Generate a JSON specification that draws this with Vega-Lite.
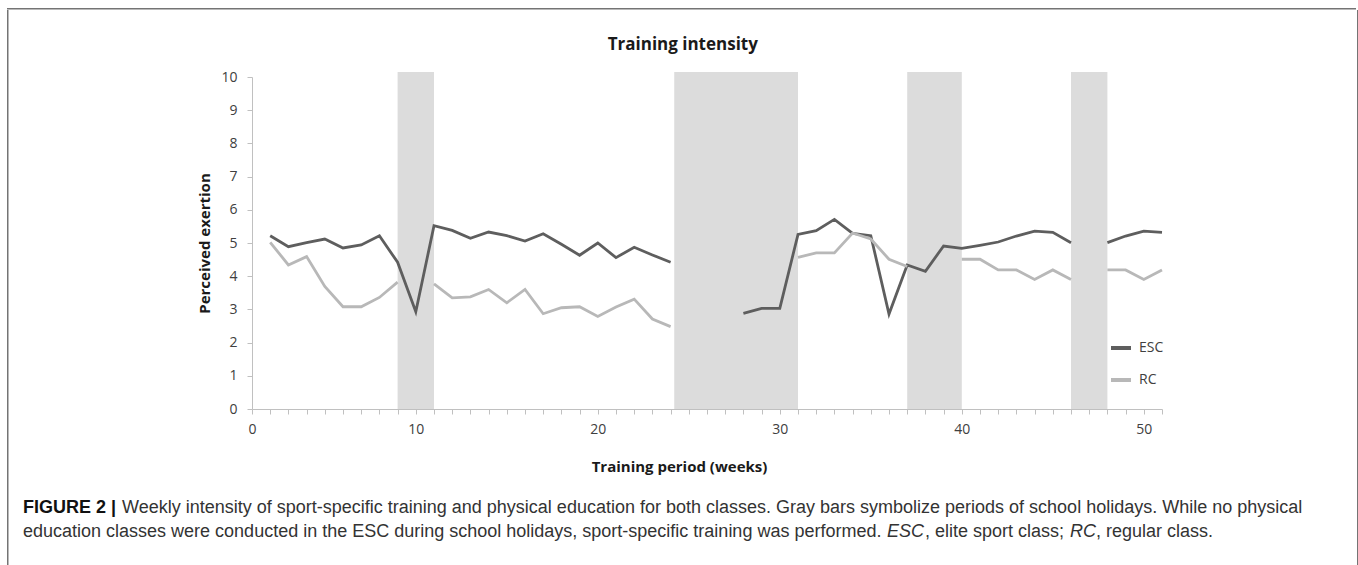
{
  "$schema": "https://vega.github.io/schema/vega-lite/v6.json",
  "padding": {"left": 7, "top": 8, "right": 0, "bottom": 0},
  "background": "white",
  "config": {"view": {"stroke": null}, "font": "Open Sans"},
  "datasets": {
    "series": [
      {"week": 2, "class": "ESC", "value": 5.22}, {"week": 3, "class": "ESC", "value": 4.89}, {"week": 4, "class": "ESC", "value": 5.01},
      {"week": 5, "class": "ESC", "value": 5.12}, {"week": 6, "class": "ESC", "value": 4.85}, {"week": 7, "class": "ESC", "value": 4.94},
      {"week": 8, "class": "ESC", "value": 5.22}, {"week": 9, "class": "ESC", "value": 4.42}, {"week": 10, "class": "ESC", "value": 2.93},
      {"week": 11, "class": "ESC", "value": 5.52}, {"week": 12, "class": "ESC", "value": 5.38}, {"week": 13, "class": "ESC", "value": 5.14},
      {"week": 14, "class": "ESC", "value": 5.33}, {"week": 15, "class": "ESC", "value": 5.22}, {"week": 16, "class": "ESC", "value": 5.06},
      {"week": 17, "class": "ESC", "value": 5.28}, {"week": 18, "class": "ESC", "value": 4.96}, {"week": 19, "class": "ESC", "value": 4.63},
      {"week": 20, "class": "ESC", "value": 5.0}, {"week": 21, "class": "ESC", "value": 4.56}, {"week": 22, "class": "ESC", "value": 4.87},
      {"week": 23, "class": "ESC", "value": 4.64}, {"week": 24, "class": "ESC", "value": 4.42}, {"week": 25, "class": "ESC", "value": null},
      {"week": 26, "class": "ESC", "value": null}, {"week": 27, "class": "ESC", "value": null}, {"week": 28, "class": "ESC", "value": 2.88},
      {"week": 29, "class": "ESC", "value": 3.03}, {"week": 30, "class": "ESC", "value": 3.03}, {"week": 31, "class": "ESC", "value": 5.26},
      {"week": 32, "class": "ESC", "value": 5.37}, {"week": 33, "class": "ESC", "value": 5.71}, {"week": 34, "class": "ESC", "value": 5.29},
      {"week": 35, "class": "ESC", "value": 5.22}, {"week": 36, "class": "ESC", "value": 2.86}, {"week": 37, "class": "ESC", "value": 4.34},
      {"week": 38, "class": "ESC", "value": 4.15}, {"week": 39, "class": "ESC", "value": 4.91}, {"week": 40, "class": "ESC", "value": 4.84},
      {"week": 41, "class": "ESC", "value": 4.93}, {"week": 42, "class": "ESC", "value": 5.03}, {"week": 43, "class": "ESC", "value": 5.21},
      {"week": 44, "class": "ESC", "value": 5.36}, {"week": 45, "class": "ESC", "value": 5.32}, {"week": 46, "class": "ESC", "value": 5.01},
      {"week": 47, "class": "ESC", "value": null}, {"week": 48, "class": "ESC", "value": 5.01}, {"week": 49, "class": "ESC", "value": 5.21},
      {"week": 50, "class": "ESC", "value": 5.36}, {"week": 51, "class": "ESC", "value": 5.32},
      {"week": 2, "class": "RC", "value": 5.02}, {"week": 3, "class": "RC", "value": 4.34}, {"week": 4, "class": "RC", "value": 4.59},
      {"week": 5, "class": "RC", "value": 3.69}, {"week": 6, "class": "RC", "value": 3.08}, {"week": 7, "class": "RC", "value": 3.08},
      {"week": 8, "class": "RC", "value": 3.36}, {"week": 9, "class": "RC", "value": 3.82}, {"week": 10, "class": "RC", "value": null},
      {"week": 11, "class": "RC", "value": 3.77}, {"week": 12, "class": "RC", "value": 3.35}, {"week": 13, "class": "RC", "value": 3.38},
      {"week": 14, "class": "RC", "value": 3.6}, {"week": 15, "class": "RC", "value": 3.2}, {"week": 16, "class": "RC", "value": 3.6},
      {"week": 17, "class": "RC", "value": 2.87}, {"week": 18, "class": "RC", "value": 3.05}, {"week": 19, "class": "RC", "value": 3.08},
      {"week": 20, "class": "RC", "value": 2.79}, {"week": 21, "class": "RC", "value": 3.07}, {"week": 22, "class": "RC", "value": 3.31},
      {"week": 23, "class": "RC", "value": 2.71}, {"week": 24, "class": "RC", "value": 2.48}, {"week": 25, "class": "RC", "value": null},
      {"week": 26, "class": "RC", "value": null}, {"week": 27, "class": "RC", "value": null}, {"week": 28, "class": "RC", "value": null},
      {"week": 29, "class": "RC", "value": null}, {"week": 30, "class": "RC", "value": null}, {"week": 31, "class": "RC", "value": 4.57},
      {"week": 32, "class": "RC", "value": 4.7}, {"week": 33, "class": "RC", "value": 4.7}, {"week": 34, "class": "RC", "value": 5.3},
      {"week": 35, "class": "RC", "value": 5.12}, {"week": 36, "class": "RC", "value": 4.51}, {"week": 37, "class": "RC", "value": 4.29},
      {"week": 38, "class": "RC", "value": null}, {"week": 39, "class": "RC", "value": null}, {"week": 40, "class": "RC", "value": 4.51},
      {"week": 41, "class": "RC", "value": 4.51}, {"week": 42, "class": "RC", "value": 4.19}, {"week": 43, "class": "RC", "value": 4.19},
      {"week": 44, "class": "RC", "value": 3.9}, {"week": 45, "class": "RC", "value": 4.19}, {"week": 46, "class": "RC", "value": 3.9},
      {"week": 47, "class": "RC", "value": null}, {"week": 48, "class": "RC", "value": 4.19}, {"week": 49, "class": "RC", "value": 4.19},
      {"week": 50, "class": "RC", "value": 3.9}, {"week": 51, "class": "RC", "value": 4.19}
    ],
    "holidays": [
      {"start": 9, "end": 11},
      {"start": 24.2, "end": 31},
      {"start": 37, "end": 40},
      {"start": 46, "end": 48}
    ]
  },
  "vconcat": [
    {"data": {"values": []}, "mark": "point", "width": 1349, "height": 1.5, "view": {"fill": "#747474", "stroke": null}},
    {
      "hconcat": [
        {"data": {"values": []}, "mark": "point", "width": 1.5, "height": 560, "view": {"fill": "#747474", "stroke": null}},
        {"data": {"values": []}, "mark": "point", "width": 13.5, "height": 1},
        {
          "vconcat": [
            {"data": {"values": []}, "mark": "point", "width": 1, "height": 0.5},
            {
              "hconcat": [
                {"data": {"values": []}, "mark": "point", "width": 174, "height": 1},
                {
                  "width": 910,
                  "height": 332,
                  "title": {"text": "Training intensity", "font": "Open Sans", "fontSize": 17, "fontWeight": "bold", "color": "#1a1a1a", "anchor": "middle", "frame": "bounds", "offset": 16},
                  "layer": [
                    {
                      "data": {"name": "holidays"},
                      "mark": {"type": "rect", "color": "#dcdcdc"},
                      "encoding": {
                        "x": {"field": "start", "type": "quantitative", "scale": {"domain": [1, 51], "nice": false, "zero": false},
                          "axis": {"title": "Training period (weeks)", "values": [1,2,3,4,5,6,7,8,9,10,11,12,13,14,15,16,17,18,19,20,21,22,23,24,25,26,27,28,29,30,31,32,33,34,35,36,37,38,39,40,41,42,43,44,45,46,47,48,49,50,51],
                            "labelExpr": "datum.value == 1 ? '0' : (datum.value % 10 == 0 ? datum.label : '')",
                            "grid": false, "tickSize": 5, "tickColor": "#c0c0c0", "domainColor": "#c0c0c0",
                            "labelFont": "Open Sans", "labelFontSize": 14, "labelColor": "#404040", "labelPadding": 8,
                            "labelFlush": false, "labelOverlap": false, "labelBound": false,
                            "titleFont": "Open Sans", "titleFontSize": 15, "titleFontWeight": "bold", "titleColor": "#1a1a1a", "titlePadding": 23, "titleX": 427}},
                        "x2": {"field": "end"},
                        "y": {"datum": 0, "type": "quantitative", "scale": {"domain": [0, 10], "nice": false},
                          "axis": {"title": "Perceived exertion", "values": [0,1,2,3,4,5,6,7,8,9,10], "grid": false, "tickSize": 5,
                            "tickColor": "#c0c0c0", "domainColor": "#c0c0c0", "labelFont": "Open Sans", "labelFontSize": 14, "labelColor": "#404040",
                            "labelPadding": 10, "labelOverlap": false, "titleFont": "Open Sans", "titleFontSize": 15, "titleFontWeight": "bold", "titleColor": "#1a1a1a", "titlePadding": 8}},
                        "y2": {"datum": 10.15}
                      }
                    },
                    {
                      "data": {"name": "series"},
                      "mark": {"type": "line", "strokeWidth": 2.8, "invalid": "break-paths-filter-domains"},
                      "encoding": {
                        "x": {"field": "week", "type": "quantitative",
                          "axis": {"title": "Training period (weeks)", "values": [1,2,3,4,5,6,7,8,9,10,11,12,13,14,15,16,17,18,19,20,21,22,23,24,25,26,27,28,29,30,31,32,33,34,35,36,37,38,39,40,41,42,43,44,45,46,47,48,49,50,51],
                            "labelExpr": "datum.value == 1 ? '0' : (datum.value % 10 == 0 ? datum.label : '')",
                            "grid": false, "tickSize": 5, "tickColor": "#c0c0c0", "domainColor": "#c0c0c0",
                            "labelFont": "Open Sans", "labelFontSize": 14, "labelColor": "#404040", "labelPadding": 8,
                            "labelFlush": false, "labelOverlap": false, "labelBound": false,
                            "titleFont": "Open Sans", "titleFontSize": 15, "titleFontWeight": "bold", "titleColor": "#1a1a1a", "titlePadding": 23, "titleX": 427}},
                        "y": {"field": "value", "type": "quantitative",
                          "axis": {"title": "Perceived exertion", "values": [0,1,2,3,4,5,6,7,8,9,10], "grid": false, "tickSize": 5,
                            "tickColor": "#c0c0c0", "domainColor": "#c0c0c0", "labelFont": "Open Sans", "labelFontSize": 14, "labelColor": "#404040",
                            "labelPadding": 10, "labelOverlap": false, "titleFont": "Open Sans", "titleFontSize": 15, "titleFontWeight": "bold", "titleColor": "#1a1a1a", "titlePadding": 8}},
                        "color": {"field": "class", "type": "nominal", "scale": {"domain": ["ESC", "RC"], "range": ["#5e5e5e", "#b8b8b8"]},
                          "legend": {"title": null, "orient": "none", "legendX": 1102, "legendY": 328, "symbolType": "stroke", "symbolSize": 400,
                            "symbolStrokeWidth": 4, "labelFont": "Open Sans", "labelFontSize": 14, "labelColor": "#404040", "labelOffset": 6,
                            "rowPadding": 12, "padding": 0}}
                      }
                    }
                  ]
                }
              ],
              "spacing": 0,
              "align": "none"
            },
            {
              "vconcat": [
                {
                  "hconcat": [
                    {"data": {"values": []}, "mark": "point", "width": 1, "height": 1,
                      "title": {"text": "FIGURE 2 |", "anchor": "start", "frame": "group", "offset": 0, "font": "Liberation Sans", "fontSize": 18, "fontWeight": "bold", "color": "#111111"}},
                    {"data": {"values": []}, "mark": "point", "width": 1, "height": 1,
                      "title": {"text": "Weekly intensity of sport-specific training and physical education for both classes. Gray bars symbolize periods of school holidays. While no physical", "anchor": "start", "frame": "group", "offset": 0, "font": "Liberation Sans", "fontSize": 18, "fontWeight": "normal", "color": "#333333"}}
                  ],
                  "spacing": 5,
                  "align": "none"
                },
                {
                  "hconcat": [
                    {"data": {"values": []}, "mark": "point", "width": 1, "height": 1,
                      "title": {"text": "education classes were conducted in the ESC during school holidays, sport-specific training was performed.", "anchor": "start", "frame": "group", "offset": 0, "font": "Liberation Sans", "fontSize": 18, "fontWeight": "normal", "color": "#333333"}},
                    {
                      "hconcat": [
                        {"data": {"values": []}, "mark": "point", "width": 1, "height": 1,
                          "title": {"text": "ESC", "anchor": "start", "frame": "group", "offset": 0, "font": "Liberation Sans", "fontSize": 18, "fontWeight": "normal", "fontStyle": "italic", "color": "#333333"}},
                        {"data": {"values": []}, "mark": "point", "width": 1, "height": 1,
                          "title": {"text": ", elite sport class;", "anchor": "start", "frame": "group", "offset": 0, "font": "Liberation Sans", "fontSize": 18, "fontWeight": "normal", "color": "#333333"}}
                      ],
                      "spacing": 0,
                      "align": "none"
                    },
                    {
                      "hconcat": [
                        {"data": {"values": []}, "mark": "point", "width": 1, "height": 1,
                          "title": {"text": "RC", "anchor": "start", "frame": "group", "offset": 0, "font": "Liberation Sans", "fontSize": 18, "fontWeight": "normal", "fontStyle": "italic", "color": "#333333"}},
                        {"data": {"values": []}, "mark": "point", "width": 1, "height": 1,
                          "title": {"text": ", regular class.", "anchor": "start", "frame": "group", "offset": 0, "font": "Liberation Sans", "fontSize": 18, "fontWeight": "normal", "color": "#333333"}}
                      ],
                      "spacing": 0,
                      "align": "none"
                    }
                  ],
                  "spacing": 5,
                  "align": "none"
                }
              ],
              "spacing": 5,
              "align": "none"
            }
          ],
          "spacing": 25,
          "align": "none"
        },
        {"data": {"values": []}, "mark": "point", "width": 54, "height": 1},
        {"data": {"values": []}, "mark": "point", "width": 1.5, "height": 560, "view": {"fill": "#747474", "stroke": null}}
      ],
      "spacing": 0,
      "align": "none"
    }
  ],
  "spacing": 0,
  "align": "none"
}
